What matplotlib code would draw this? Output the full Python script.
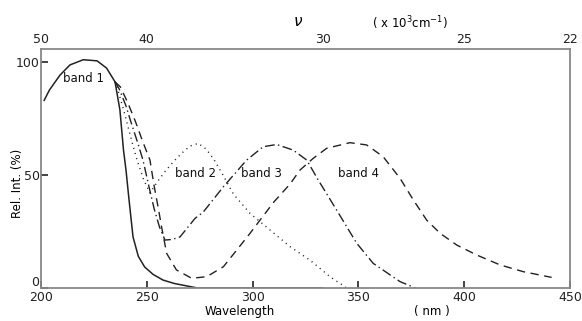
# relative intensity of bands 1-4 vs wavelength, with wavenumber on top

import matplotlib.pyplot as plt
from matplotlib.transforms import ScaledTranslation

# band 1 (solid), shared start of all curves
wl_1 = [201.5, 204, 209, 213.7, 220, 226.5, 231, 235, 237.3, 239, 240.2, 241.5,
        243.5, 246, 249, 253, 257.7, 263, 269, 274, 333]
int_1 = [83, 87.6, 94.2, 98.7, 101, 100.5, 97.3, 91.2, 78.8, 61, 52, 40,
         22.6, 14, 9.3, 6, 3.5, 2, 0.9, 0, 0]

# band 2 (dotted)
wl_2 = [235, 236.5, 239, 241.5, 243.5, 245.4, 248.5, 251.5, 255, 259, 263.3, 267.3,
        270.5, 274.3, 278, 281.4, 286, 291, 298.8, 308.2, 317.7, 327, 336.6, 344.5]
int_2 = [91.2, 87, 79, 70, 63, 56.6, 48, 42, 47, 52, 56.6, 60.3,
         62.8, 64, 61.5, 57.4, 50, 41.5, 33, 25.7, 18.3, 12.4, 5, 0]

# band 3 (dash-dot)
wl_3 = [235, 237, 240, 243, 245.8, 248.2, 251, 253.5, 256, 258.6, 262, 265.7,
        272.8, 276.6, 286.2, 297.2, 305, 311.4, 319.2, 325.6, 331, 339.7, 349.2,
        357, 365, 369.7, 377]
int_3 = [91.2, 88, 81, 72, 64, 56.6, 45, 35, 27, 21.2, 21.5, 22.6,
         30.8, 33.5, 44.8, 56.6, 62.5, 63.5, 61, 56.6, 47.8, 34.5, 19.8,
         10.9, 5.8, 2.8, 0]

# band 4 (dashed)
wl_4 = [235, 237.5, 241, 244.5, 248, 251.5, 253.5, 255.5, 257, 259.4, 264, 271.2,
        278.3, 286.2, 293.2, 298.8, 304.3, 310, 317.7, 322.4, 328.7, 335, 346,
        353.9, 361.7, 369.7, 376, 382.3, 388.6, 396.5, 405.9, 417, 428, 441.3]
int_4 = [91.2, 89, 82, 74, 65, 56.6, 45, 35, 27, 15.3, 8, 4.3,
         5, 9.4, 17.6, 24.2, 31, 38, 46, 52.2, 57.4, 61.8, 64.3,
         63.3, 58.1, 48.5, 38.9, 30, 24.2, 19, 14.6, 10.2, 7.2, 4.7]

band_labels = ['band 1', 'band 2', 'band 3', 'band 4']
band_label_pos = [(220, 92.5), (273, 50.5), (304, 50.5), (350, 50.5)]

x_ticks = [200, 250, 300, 350, 400, 450]
y_ticks = [0, 50, 100]
top_tick_pos = [200, 250, 333.3, 400, 450]
top_tick_labels = ['50', '40', '30', '25', '22']

fig = plt.figure(figsize=(5.82, 3.21), dpi=100)
ax = fig.add_axes([0.0704, 0.1028, 0.909, 0.7446])

ink = '#222222'
ax.plot(wl_1, int_1, color=ink, lw=1.1)
ax.plot(wl_2, int_2, color=ink, lw=1.0, linestyle=(0, (0.8, 3)))
ax.plot(wl_3, int_3, color=ink, lw=1.0, linestyle=(0, (7, 2.5, 1, 2.5)))
ax.plot(wl_4, int_4, color=ink, lw=1.0, linestyle=(0, (6, 4)))

for lab, (x, y) in zip(band_labels, band_label_pos):
    ax.text(x, y, lab, fontsize=8.5, ha='center', va='center', color='#111111')

ax.set_xlim(200, 450)
ax.set_ylim(0, 105.75)
ax.set_xticks(x_ticks)
ax.set_yticks(y_ticks)
ax.tick_params(axis='both', direction='in', length=5, width=1.2, labelsize=9,
               colors='#222222', pad=2)
ax.tick_params(axis='y', pad=1)

# lift the "0" label a little so it clears "200"
zero_lab = ax.get_yticklabels()[0]
zero_lab.set_transform(zero_lab.get_transform()
                       + ScaledTranslation(0, 5 / 72, fig.dpi_scale_trans))

for s in ax.spines.values():
    s.set_color('#888888')
    s.set_linewidth(1.3)

# wavenumber axis on top (x 10^3 cm^-1)
top = ax.twiny()
top.set_xlim(ax.get_xlim())
top.set_xticks(top_tick_pos)
top.set_xticklabels(top_tick_labels)
top.tick_params(axis='x', length=0, labelsize=9, colors='#222222', pad=2)
for s in top.spines.values():
    s.set_visible(False)

fig.text(298 / 582, 1 - 22 / 321, r'$\nu$', fontsize=11, ha='center', va='center')
fig.text(410 / 582, 1 - 23 / 321, r'( x 10$^3$cm$^{-1}$)', fontsize=8.5,
         ha='center', va='center')

fig.text(240 / 582, 1 - 312 / 321, 'Wavelength', fontsize=8.5, ha='center', va='center')
fig.text(432 / 582, 1 - 312 / 321, '( nm )', fontsize=8.5, ha='center', va='center')
fig.text(18 / 582, 1 - 183 / 321, 'Rel. Int. (%)', fontsize=8.5, rotation=90,
         ha='center', va='center')

fig.savefig('out.png', dpi=100)
